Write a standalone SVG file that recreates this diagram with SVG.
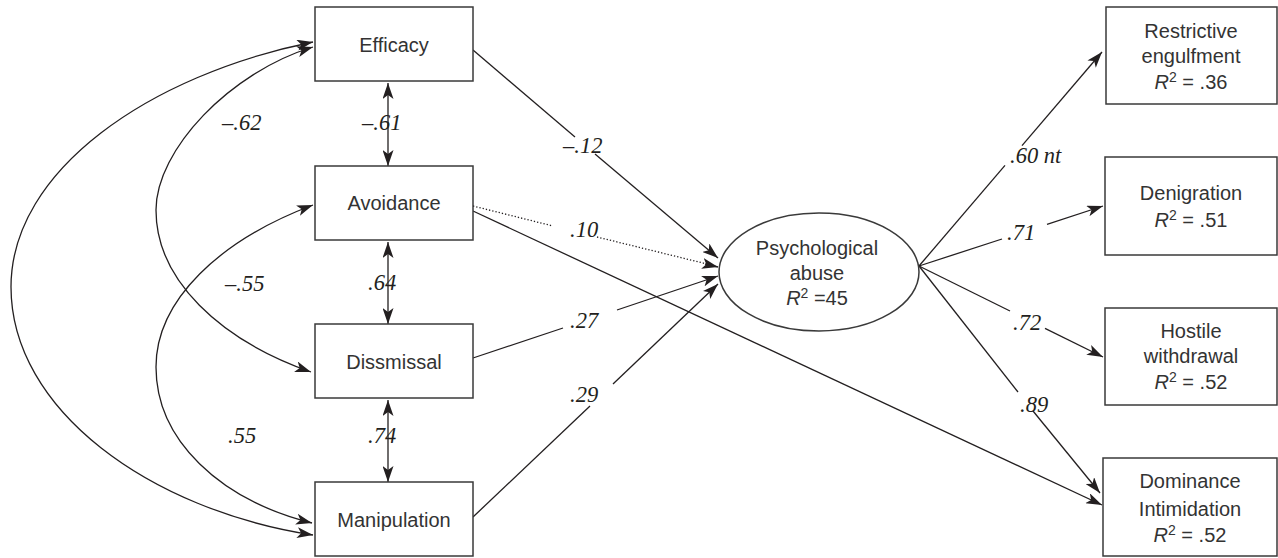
<svg xmlns="http://www.w3.org/2000/svg" width="1278" height="558" viewBox="0 0 1278 558">
<style>
.box{fill:#fff;stroke:#3a3a3a;stroke-width:1.5}
.nt{font-family:"Liberation Sans",Arial,sans-serif;font-size:20px;fill:#333;text-anchor:middle}
.lb{font-family:"Liberation Serif","Times New Roman",serif;font-style:italic;font-size:22.5px;fill:#231f20}
.c{fill:none;stroke:#231f20;stroke-width:1.3}
.dot{fill:none;stroke:#231f20;stroke-width:1.3;stroke-dasharray:1.3 2}
.it{font-style:italic}
.sup{font-size:14px}
</style>
<defs>
<marker id="ah" viewBox="0 0 16 11" refX="16" refY="5.5" markerWidth="16" markerHeight="11" markerUnits="userSpaceOnUse" orient="auto-start-reverse">
<path d="M0,0 L16,5.5 L0,11 L4,5.5 z" fill="#231f20"/>
</marker>
</defs>
<rect width="1278" height="558" fill="#fff"/>
<g id="connectors">
<path class="c" d="M313,42 C150,75 11,170 11,287 C11,410 150,510 313,535" marker-start="url(#ah)" marker-end="url(#ah)"/>
<path class="c" d="M313,47 C230,72 156,150 156,210 C156,280 220,340 311,372" marker-start="url(#ah)" marker-end="url(#ah)"/>
<path class="c" d="M313,205 C220,240 156,300 156,367 C156,440 220,500 312,523" marker-start="url(#ah)" marker-end="url(#ah)"/>
<line class="c" x1="388" y1="83" x2="388" y2="166" marker-start="url(#ah)" marker-end="url(#ah)"/>
<line class="c" x1="388" y1="242" x2="388" y2="324" marker-start="url(#ah)" marker-end="url(#ah)"/>
<line class="c" x1="388" y1="400" x2="388" y2="482" marker-start="url(#ah)" marker-end="url(#ah)"/>
<line class="c" x1="473" y1="50" x2="575" y2="137"/>
<line class="c" x1="595" y1="154" x2="718" y2="258" marker-end="url(#ah)"/>
<line class="dot" x1="473" y1="206" x2="553" y2="226"/>
<line class="dot" x1="597" y1="237" x2="707" y2="264"/>
<line class="c" x1="705" y1="264" x2="718" y2="267" marker-end="url(#ah)"/>
<line class="c" x1="473" y1="211" x2="1102" y2="505" marker-end="url(#ah)"/>
<line class="c" x1="473" y1="358" x2="563" y2="328"/>
<line class="c" x1="617" y1="310" x2="718" y2="276" marker-end="url(#ah)"/>
<line class="c" x1="473" y1="517" x2="590" y2="406"/>
<line class="c" x1="613" y1="384" x2="718" y2="284" marker-end="url(#ah)"/>
<line class="c" x1="919" y1="266" x2="1005" y2="165.4"/>
<line class="c" x1="1022" y1="145.6" x2="1102" y2="52" marker-end="url(#ah)"/>
<line class="c" x1="919" y1="266" x2="1002" y2="239"/>
<line class="c" x1="1047" y1="224.3" x2="1103" y2="206" marker-end="url(#ah)"/>
<line class="c" x1="919" y1="266" x2="1010" y2="311"/>
<line class="c" x1="1045" y1="328.3" x2="1103" y2="357" marker-end="url(#ah)"/>
<line class="c" x1="919" y1="266" x2="1018" y2="392"/>
<line class="c" x1="1033" y1="411" x2="1100" y2="493" marker-end="url(#ah)"/>
</g>
<g id="labels">
<text class="lb" x="222" y="130">–.62</text>
<text class="lb" x="362" y="130">–.61</text>
<text class="lb" x="225" y="291">–.55</text>
<text class="lb" x="368" y="290">.64</text>
<text class="lb" x="228" y="443">.55</text>
<text class="lb" x="368" y="443">.74</text>
<text class="lb" x="563" y="153">–.12</text>
<text class="lb" x="570" y="237">.10</text>
<text class="lb" x="570" y="328">.27</text>
<text class="lb" x="570" y="402">.29</text>
<text class="lb" x="1010" y="163">.60 nt</text>
<text class="lb" x="1007" y="240">.71</text>
<text class="lb" x="1013" y="330">.72</text>
<text class="lb" x="1020" y="412">.89</text>
</g>
<g id="efficacy"><rect class="box" x="315" y="7" width="158" height="74"/><text class="nt" x="394" y="52">Efficacy</text></g>
<g id="avoidance"><rect class="box" x="315" y="166" width="158" height="74"/><text class="nt" x="394" y="210">Avoidance</text></g>
<g id="dissmissal"><rect class="box" x="315" y="324" width="158" height="74"/><text class="nt" x="394" y="369">Dissmissal</text></g>
<g id="manipulation"><rect class="box" x="315" y="482" width="158" height="74"/><text class="nt" x="394" y="527">Manipulation</text></g>
<g id="psychological-abuse"><ellipse class="box" cx="819" cy="272" rx="100" ry="59"/>
<text class="nt" x="817" y="255">Psychological</text>
<text class="nt" x="817" y="280">abuse</text>
<text class="nt" x="817" y="305"><tspan class="it">R</tspan><tspan class="sup" dy="-7">2</tspan><tspan dy="7"> =45</tspan></text></g>
<g id="restrictive"><rect class="box" x="1106" y="7" width="171" height="97"/>
<text class="nt" x="1191" y="38">Restrictive</text>
<text class="nt" x="1191" y="63">engulfment</text>
<text class="nt" x="1191" y="89"><tspan class="it">R</tspan><tspan class="sup" dy="-7">2</tspan><tspan dy="7"> = .36</tspan></text></g>
<g id="denigration"><rect class="box" x="1105" y="157" width="172" height="98"/>
<text class="nt" x="1191" y="200">Denigration</text>
<text class="nt" x="1191" y="227"><tspan class="it">R</tspan><tspan class="sup" dy="-7">2</tspan><tspan dy="7"> = .51</tspan></text></g>
<g id="hostile"><rect class="box" x="1105" y="308" width="172" height="97"/>
<text class="nt" x="1191" y="338">Hostile</text>
<text class="nt" x="1191" y="363">withdrawal</text>
<text class="nt" x="1191" y="389"><tspan class="it">R</tspan><tspan class="sup" dy="-7">2</tspan><tspan dy="7"> = .52</tspan></text></g>
<g id="dominance"><rect class="box" x="1103" y="458" width="174" height="98"/>
<text class="nt" x="1190" y="488">Dominance</text>
<text class="nt" x="1190" y="516">Intimidation</text>
<text class="nt" x="1190" y="542"><tspan class="it">R</tspan><tspan class="sup" dy="-7">2</tspan><tspan dy="7"> = .52</tspan></text></g>
</svg>
